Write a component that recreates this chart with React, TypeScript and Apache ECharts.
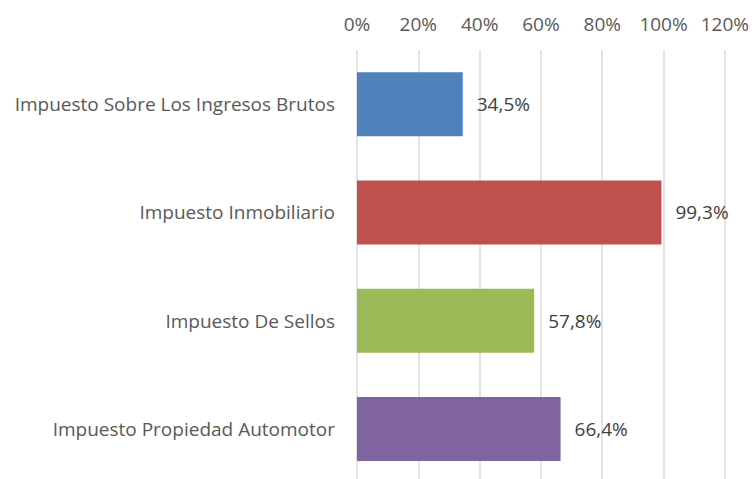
import React, { useEffect, useRef } from "react";
import * as echarts from "echarts";

const categories = [
  "Impuesto Sobre Los Ingresos Brutos",
  "Impuesto Inmobiliario",
  "Impuesto De Sellos",
  "Impuesto Propiedad Automotor",
];
const values = [34.5, 99.3, 57.8, 66.4];
const colors = ["#4F81BD", "#C0504D", "#9BBB59", "#8064A2"];
const axisMin = 0;
const axisMax = 120;
const axisStep = 20;

export default function App() {
  const ref = useRef<HTMLDivElement>(null);
  useEffect(() => {
    if (!ref.current) return;
    const chart = echarts.init(ref.current, undefined, { renderer: "svg" });
    const font = "'Open Sans', 'Noto Sans', sans-serif";
    chart.setOption({
      animation: false,
      grid: { left: 357, right: 27, top: 50, bottom: 0, containLabel: false },
      xAxis: {
        type: "value",
        position: "top",
        min: axisMin,
        max: axisMax,
        interval: axisStep,
        axisLine: { show: false },
        axisTick: { show: false },
        axisLabel: {
          formatter: "{value}%",
          color: "#595959",
          fontSize: 19,
          fontFamily: font,
          margin: 17,
        },
        splitLine: { lineStyle: { color: "#D9D9D9", width: 1.5 } },
      },
      yAxis: {
        type: "category",
        inverse: true,
        data: categories,
        axisLine: { show: false },
        axisTick: { show: false },
        axisLabel: {
          color: "#595959",
          fontSize: 19,
          fontFamily: font,
          margin: 22,
        },
      },
      series: [
        {
          type: "bar",
          barWidth: 64,
          data: values.map((v, i) => ({ value: v, itemStyle: { color: colors[i] } })),
          label: {
            show: true,
            position: "right",
            distance: 14,
            color: "#404040",
            fontSize: 19,
            fontFamily: font,
            formatter: (p: any) => p.value.toFixed(1).replace(".", ",") + "%",
          },
        },
      ],
    });
    return () => chart.dispose();
  }, []);
  return (
    <div style={{ position: "fixed", left: 0, top: 0, width: 752, height: 479, overflow: "hidden", background: "#fff" }}>
      <div ref={ref} style={{ width: 752, height: 483 }} />
    </div>
  );
}
